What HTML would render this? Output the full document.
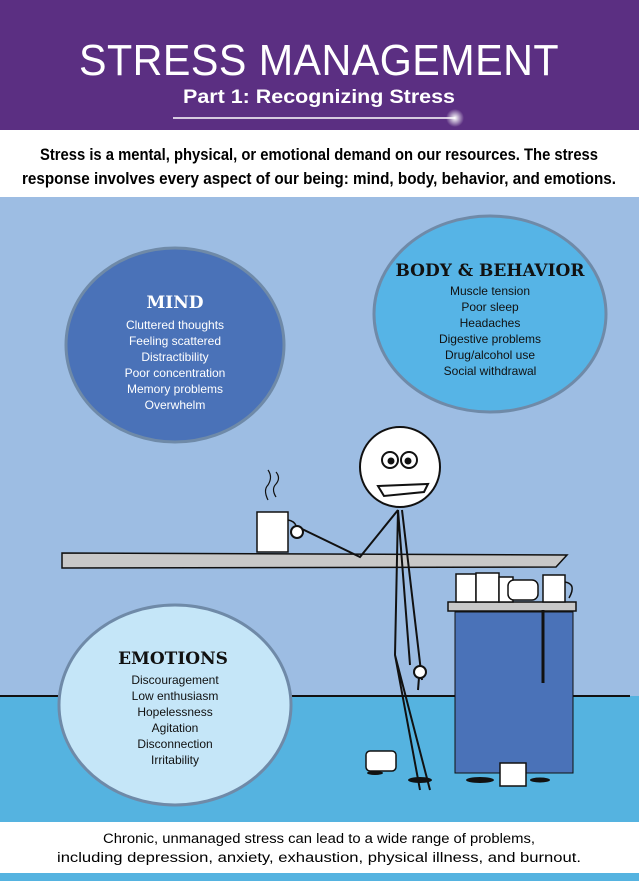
<!DOCTYPE html>
<html><head><meta charset="utf-8"><style>
body{margin:0;width:639px;height:881px;overflow:hidden;font-family:"Liberation Sans",sans-serif}
</style></head><body>
<svg width="639" height="881" viewBox="0 0 639 881" xmlns="http://www.w3.org/2000/svg" font-family="Liberation Sans, sans-serif">
<defs><radialGradient id="g"><stop offset="0" stop-color="#fff"/><stop offset="1" stop-color="#fff" stop-opacity="0"/></radialGradient></defs>
<rect width="639" height="881" fill="#fff"/>
<rect width="639" height="130" fill="#5b2f82"/>
<text x="319" y="75" text-anchor="middle" fill="#fff" font-size="44" font-weight="300" letter-spacing="0.5" textLength="480" lengthAdjust="spacingAndGlyphs">STRESS MANAGEMENT</text>
<text x="319" y="103" text-anchor="middle" fill="#fff" font-size="19" font-weight="bold" textLength="272" lengthAdjust="spacingAndGlyphs">Part 1: Recognizing Stress</text>
<line x1="173" y1="118" x2="455" y2="118" stroke="#fff" stroke-width="1.5"/>
<circle cx="455" cy="118" r="9" fill="url(#g)"/>
<text x="319" y="160" text-anchor="middle" font-size="16.5" font-weight="bold" textLength="558" lengthAdjust="spacingAndGlyphs">Stress is a mental, physical, or emotional demand on our resources. The stress</text>
<text x="319" y="184" text-anchor="middle" font-size="16.5" font-weight="bold" textLength="594" lengthAdjust="spacingAndGlyphs">response involves every aspect of our being: mind, body, behavior, and emotions.</text>
<rect y="197" width="639" height="499" fill="#9dbde3"/>
<rect y="696" width="639" height="126" fill="#55b3e0"/>
<line x1="0" y1="696" x2="630" y2="696" stroke="#111" stroke-width="2"/>
<rect y="873" width="639" height="8" fill="#55b3e0"/>
<text x="319" y="843" text-anchor="middle" font-size="13.5" textLength="432" lengthAdjust="spacingAndGlyphs">Chronic, unmanaged stress can lead to a wide range of problems,</text>
<text x="319" y="862" text-anchor="middle" font-size="13.5" textLength="524" lengthAdjust="spacingAndGlyphs">including depression, anxiety, exhaustion, physical illness, and burnout.</text>
<!-- circles -->
<ellipse cx="175" cy="345" rx="109" ry="97" fill="#4a72b8" stroke="#6f8aa8" stroke-width="3"/>
<ellipse cx="490" cy="314" rx="116" ry="98" fill="#56b4e6" stroke="#6f8aa8" stroke-width="3"/>
<ellipse cx="175" cy="705" rx="116" ry="100" fill="#c5e6f8" stroke="#6f8aa8" stroke-width="3"/>
<g text-anchor="middle" font-size="12">
<text x="175" y="308" fill="#fff" font-family="DejaVu Serif, serif" font-size="17" font-weight="bold">MIND</text>
<g fill="#fff"><text x="175" y="329">Cluttered thoughts</text><text x="175" y="345">Feeling scattered</text><text x="175" y="361">Distractibility</text><text x="175" y="377">Poor concentration</text><text x="175" y="393">Memory problems</text><text x="175" y="409">Overwhelm</text></g>
<text x="490" y="276" fill="#111" font-family="DejaVu Serif, serif" font-size="17" font-weight="bold">BODY &amp; BEHAVIOR</text>
<g fill="#111"><text x="490" y="295">Muscle tension</text><text x="490" y="311">Poor sleep</text><text x="490" y="327">Headaches</text><text x="490" y="343">Digestive problems</text><text x="490" y="359">Drug/alcohol use</text><text x="490" y="375">Social withdrawal</text></g>
<text x="173" y="664" fill="#111" font-family="DejaVu Serif, serif" font-size="17" font-weight="bold">EMOTIONS</text>
<g fill="#111"><text x="175" y="684">Discouragement</text><text x="175" y="700">Low enthusiasm</text><text x="175" y="716">Hopelessness</text><text x="175" y="732">Agitation</text><text x="175" y="748">Disconnection</text><text x="175" y="764">Irritability</text></g>
</g>
<!-- counter -->
<polygon points="62,553 567,555 556,567 62,568" fill="#c8c8c8" stroke="#111" stroke-width="1.5"/>
<!-- cabinet -->
<rect x="448" y="602" width="128" height="9" fill="#c8c8c8" stroke="#111" stroke-width="1.5"/>
<rect x="455" y="612" width="118" height="161" fill="#4a72b8" stroke="#111" stroke-width="1"/>
<line x1="543" y1="610" x2="543" y2="683" stroke="#111" stroke-width="3"/>
<!-- mugs -->
<g fill="#fff" stroke="#111" stroke-width="1.5">
<rect x="257" y="512" width="31" height="40"/><path d="M288 520 q12 2 8 18" fill="none"/>
<rect x="456" y="574" width="20" height="28"/><rect x="476" y="573" width="23" height="29"/><rect x="499" y="577" width="14" height="25"/>
<rect x="508" y="580" width="30" height="20" rx="6"/><rect x="543" y="575" width="22" height="27"/><path d="M565 582 q12 2 4 16" fill="none"/>
<rect x="366" y="751" width="30" height="20" rx="4"/><rect x="500" y="763" width="26" height="23"/>
</g>
<!-- stick figure -->
<g stroke="#111" stroke-width="2" fill="none">
<circle cx="400" cy="467" r="40" fill="#fff"/>
<circle cx="390" cy="460" r="8"/><circle cx="409" cy="460" r="8"/>
<circle cx="391" cy="461" r="2.5" fill="#111"/><circle cx="408" cy="461" r="2.5" fill="#111"/>
<path d="M378 486 L428 484 L424 492 L384 496 Z" fill="#fff"/>
<path d="M398 510 L395 655 L430 790 M398 510 L410 665 M402 510 L422 680 M398 510 L360 557 L300 528 M420 665 L418 690 M395 655 L420 790"/>
<circle cx="297" cy="532" r="6" fill="#fff"/><circle cx="420" cy="672" r="6" fill="#fff"/>
<path d="M268 500 q-5 -10 0 -15 q5 -8 0 -15 M276 497 q-5 -8 0 -13 q5 -6 0 -12" stroke-width="1.2"/>
</g>
<g fill="#111"><ellipse cx="420" cy="780" rx="12" ry="3"/><ellipse cx="480" cy="780" rx="14" ry="3"/><ellipse cx="540" cy="780" rx="10" ry="2.5"/><ellipse cx="375" cy="773" rx="8" ry="2"/></g>
</svg>
</body></html>
